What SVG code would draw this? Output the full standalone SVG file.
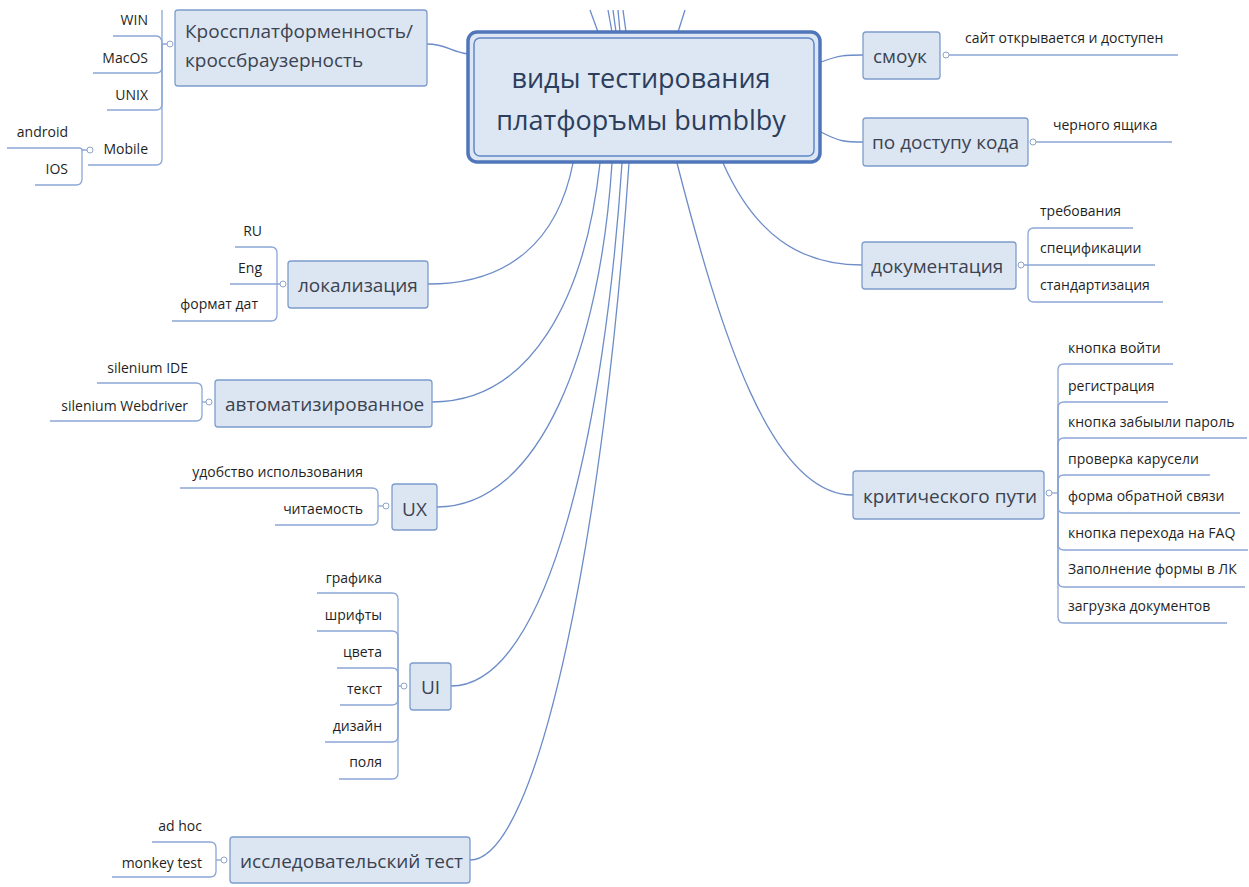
<svg xmlns="http://www.w3.org/2000/svg" width="1249" height="887" viewBox="0 0 1249 887">
<style>
.bg{fill:#ffffff}
.box{fill:#dce6f2;stroke:#7d9ccd;stroke-width:1.3}
.tt{font-family:"Open Sans","Noto Sans","DejaVu Sans",sans-serif;font-size:19px;fill:#3b4350}
.st{font-family:"Open Sans","Noto Sans","DejaVu Sans",sans-serif;font-size:14px;fill:#1f1f1f}
.ct{font-family:"Open Sans","Noto Sans","DejaVu Sans",sans-serif;font-size:27px;fill:#2c3e5c;text-anchor:middle}
.ul{fill:none;stroke:#8ba6d6;stroke-width:1.3}
.conn{fill:none;stroke:#6c8cc8;stroke-width:1.3}
.mk{fill:#ffffff;stroke:#8ea4c8;stroke-width:1}
.end{text-anchor:end}
.mid{text-anchor:middle}
</style>
<rect class="bg" x="0" y="0" width="1249" height="887"/>

<g id="connectors">
<path class="conn" d="M427,44 C447,44 450,52 468,54"/>
<path class="conn" d="M821,62 C840,55 845,55 863,55"/>
<path class="conn" d="M821,132 C840,142 845,142 863,142"/>
<path class="conn" d="M573,163 C558,240 510,284 428,284"/>
<path class="conn" d="M600,163 C585,300 530,402 432,402"/>
<path class="conn" d="M612,163 C600,350 540,507 437,507"/>
<path class="conn" d="M622,163 C605,420 550,686 451,686"/>
<path class="conn" d="M629,163 C605,520 540,860 470,860"/>
<path class="conn" d="M677,163 C720,330 770,495 853,495"/>
<path class="conn" d="M723,163 C755,235 800,265 862,265"/>
<path class="conn" d="M590,10 L598,32"/>
<path class="conn" d="M608,10 L612,32"/>
<path class="conn" d="M613,10 L616,32"/>
<path class="conn" d="M618,10 L620,32"/>
<path class="conn" d="M623,10 L626,32"/>
<path class="conn" d="M685,10 L678,32"/>
</g>

<g id="central">
<rect x="468" y="32" width="352" height="130" rx="9" fill="#dde7f3" stroke="#4f75bb" stroke-width="3.5"/>
<rect x="474" y="38" width="340" height="118" rx="6" fill="none" stroke="#6088c8" stroke-width="1.5"/>
<text class="ct" x="641" y="88">виды тестирования</text>
<text class="ct" x="641" y="130">платфоръмы bumblby</text>
</g>

<g id="node-cross">
<rect class="box" x="175" y="10" width="252" height="76" rx="3"/>
<text class="tt" x="185" y="38">Кроссплатформенность/</text>
<text class="tt" x="185" y="67">кроссбраузерность</text>
<path class="ul" d="M167,44 L162,44 M162,44 L162,10"/>
<path class="ul" d="M162,44 Q162,36 156,36 L113,36"/>
<path class="ul" d="M162,44 L162,67 Q162,73 156,73 L93,73"/>
<path class="ul" d="M162,44 L162,104 Q162,110 156,110 L107,110"/>
<path class="ul" d="M162,44 L162,159 Q162,165 156,165 L88,165"/>
<circle class="mk" cx="170" cy="44" r="3"/>
<text class="st end" x="148" y="25">WIN</text>
<text class="st end" x="148" y="63">MacOS</text>
<text class="st end" x="148" y="100">UNIX</text>
<text class="st end" x="148" y="154">Mobile</text>
</g>

<g id="node-mobile">
<path class="ul" d="M87,150 L82,150 Q82,148 79,148 L7,148"/>
<path class="ul" d="M82,150 L82,179 Q82,185 76,185 L35,185"/>
<circle class="mk" cx="90" cy="150" r="3"/>
<text class="st end" x="68" y="137">android</text>
<text class="st end" x="68" y="174">IOS</text>
</g>

<g id="node-smoke">
<rect class="box" x="863" y="32" width="77" height="47" rx="3"/>
<text class="tt" x="873" y="63">смоук</text>
<path class="ul" d="M949,55 L1178,55"/>
<circle class="mk" cx="946" cy="55" r="3"/>
<text class="st" x="965" y="43">сайт открывается и доступен</text>
</g>

<g id="node-access">
<rect class="box" x="863" y="118" width="165" height="48" rx="3"/>
<text class="tt" x="872" y="149">по доступу кода</text>
<path class="ul" d="M1036,142 L1172,142"/>
<circle class="mk" cx="1033" cy="142" r="3"/>
<text class="st" x="1053" y="130">черного ящика</text>
</g>

<g id="node-docs">
<rect class="box" x="862" y="242" width="154" height="47" rx="3"/>
<text class="tt" x="871" y="273">документация</text>
<path class="ul" d="M1024,265 L1155,265"/>
<path class="ul" d="M1028,265 L1028,234 Q1028,228 1034,228 L1133,228"/>
<path class="ul" d="M1028,265 L1028,296 Q1028,302 1034,302 L1163,302"/>
<circle class="mk" cx="1021" cy="265" r="3"/>
<text class="st" x="1040" y="216">требования</text>
<text class="st" x="1040" y="253">спецификации</text>
<text class="st" x="1040" y="290">стандартизация</text>
</g>

<g id="node-critical">
<rect class="box" x="853" y="471" width="191" height="48" rx="3"/>
<text class="tt" x="863" y="503">критического пути</text>
<path class="ul" d="M1052,493 L1058,493"/>
<path class="ul" d="M1058,493 L1058,370 Q1058,364 1064,364 L1173,364"/>
<path class="ul" d="M1058,493 L1058,408 Q1058,402 1064,402 L1168,402"/>
<path class="ul" d="M1058,493 L1058,444 Q1058,438 1064,438 L1247,438"/>
<path class="ul" d="M1058,493 L1058,481 Q1058,475 1064,475 L1210,475"/>
<path class="ul" d="M1058,493 L1058,507 Q1058,513 1064,513 L1240,513"/>
<path class="ul" d="M1058,493 L1058,544 Q1058,550 1064,550 L1248,550"/>
<path class="ul" d="M1058,493 L1058,581 Q1058,587 1064,587 L1245,587"/>
<path class="ul" d="M1058,493 L1058,617 Q1058,623 1064,623 L1227,623"/>
<circle class="mk" cx="1049" cy="493" r="3"/>
<text class="st" x="1068" y="353">кнопка войти</text>
<text class="st" x="1068" y="391">регистрация</text>
<text class="st" x="1068" y="427">кнопка забыыли пароль</text>
<text class="st" x="1068" y="464">проверка карусели</text>
<text class="st" x="1068" y="501">форма обратной связи</text>
<text class="st" x="1068" y="538">кнопка перехода на FAQ</text>
<text class="st" x="1068" y="574">Заполнение формы в ЛК</text>
<text class="st" x="1068" y="611">загрузка документов</text>
</g>

<g id="node-local">
<rect class="box" x="288" y="261" width="140" height="47" rx="3"/>
<text class="tt" x="298" y="292">локализация</text>
<path class="ul" d="M280,284 L230,284"/>
<path class="ul" d="M277,284 L277,253 Q277,247 271,247 L235,247"/>
<path class="ul" d="M277,284 L277,315 Q277,321 271,321 L172,321"/>
<circle class="mk" cx="283" cy="284" r="3"/>
<text class="st end" x="262" y="236">RU</text>
<text class="st end" x="262" y="273">Eng</text>
<text class="st end" x="258" y="309">формат дат</text>
</g>

<g id="node-auto">
<rect class="box" x="215" y="380" width="217" height="47" rx="3"/>
<text class="tt" x="225" y="411">автоматизированное</text>
<path class="ul" d="M206,402 L202,402"/>
<path class="ul" d="M202,402 L202,389 Q202,383 196,383 L97,383"/>
<path class="ul" d="M202,402 L202,415 Q202,421 196,421 L50,421"/>
<circle class="mk" cx="209" cy="402" r="3"/>
<text class="st end" x="188" y="373">silenium IDE</text>
<text class="st end" x="188" y="411">silenium Webdriver</text>
</g>

<g id="node-ux">
<rect class="box" x="392" y="484" width="45" height="46" rx="3"/>
<text class="tt mid" x="414.5" y="516">UX</text>
<path class="ul" d="M383,506 L378,506"/>
<path class="ul" d="M378,506 L378,494 Q378,488 372,488 L180,488"/>
<path class="ul" d="M378,506 L378,519 Q378,525 372,525 L275,525"/>
<circle class="mk" cx="386" cy="506" r="3"/>
<text class="st end" x="363" y="477">удобство использования</text>
<text class="st end" x="363" y="514">читаемость</text>
</g>

<g id="node-ui">
<rect class="box" x="410" y="663" width="41" height="47" rx="3"/>
<text class="tt mid" x="430.5" y="694">UI</text>
<path class="ul" d="M401,686 L398,686"/>
<path class="ul" d="M398,686 L398,599 Q398,593 392,593 L317,593"/>
<path class="ul" d="M398,686 L398,637 Q398,631 392,631 L317,631"/>
<path class="ul" d="M398,686 L398,674 Q398,668 392,668 L337,668"/>
<path class="ul" d="M398,686 L398,699 Q398,705 392,705 L340,705"/>
<path class="ul" d="M398,686 L398,736 Q398,742 392,742 L325,742"/>
<path class="ul" d="M398,686 L398,773 Q398,779 392,779 L339,779"/>
<circle class="mk" cx="404" cy="686" r="3"/>
<text class="st end" x="382" y="583">графика</text>
<text class="st end" x="382" y="620">шрифты</text>
<text class="st end" x="382" y="657">цвета</text>
<text class="st end" x="382" y="694">текст</text>
<text class="st end" x="382" y="731">дизайн</text>
<text class="st end" x="382" y="767">поля</text>
</g>

<g id="node-explore">
<rect class="box" x="230" y="837" width="240" height="46" rx="3"/>
<text class="tt" x="240" y="868">исследовательский тест</text>
<path class="ul" d="M221,860 L216,860"/>
<path class="ul" d="M216,860 L216,848 Q216,842 210,842 L152,842"/>
<path class="ul" d="M216,860 L216,871 Q216,877 210,877 L112,877"/>
<circle class="mk" cx="224" cy="860" r="3"/>
<text class="st end" x="202" y="831">ad hoc</text>
<text class="st end" x="202" y="868">monkey test</text>
</g>
</svg>
